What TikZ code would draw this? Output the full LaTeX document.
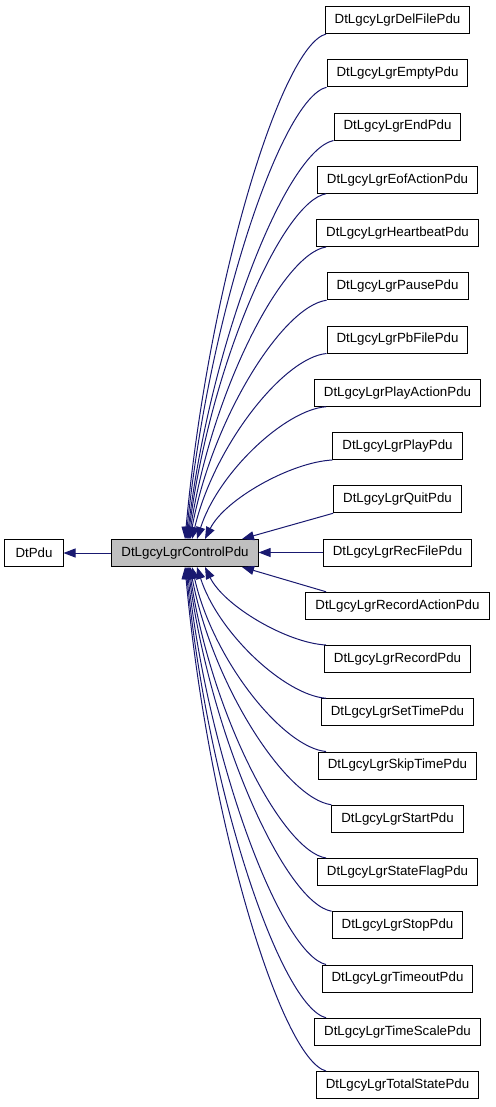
\documentclass[tikz,border=0pt]{standalone}
\usepackage{fontspec}
\setmainfont{Liberation Sans}
\usetikzlibrary{arrows.meta,calc}
\definecolor{edgeblue}{HTML}{191970}
\definecolor{basegray}{HTML}{BFBFBF}
\tikzset{
  cls/.style={draw=black, line width=1bp, fill=white, inner xsep=9.5bp, inner ysep=0bp,
    minimum height=27bp, font=\fontsize{13.3bp}{16bp}\selectfont, anchor=center},
  cur/.style={cls, fill=basegray},
  edge/.style={draw=edgeblue, line width=1bp, -{Triangle[length=12bp,width=9bp]}, edgeblue},
}
\newcommand\upedge[6]{%
  \draw[edge] let \p1=(#1.south west), \n1={max(\x1,326bp)} in
    ({\n1},{\y1}) .. controls +(-#3,#4) and +(#5,-#6) .. ([xshift=#2bp]ctrl.north);}
\newcommand\downedge[6]{%
  \draw[edge] let \p1=(#1.north west), \n1={max(\x1,326bp)} in
    ({\n1},{\y1}) .. controls +(-#3,-#4) and +(#5,#6) .. ([xshift=#2bp]ctrl.south);}
\begin{document}
\begin{tikzpicture}[x=1bp,y=-1bp]
\useasboundingbox (0,0) rectangle (496,1107);
\node[cls, minimum width=58bp] (dtpdu) at (34,553) {DtPdu};
\node[cur] (ctrl) at (185,553) {DtLgcyLgrControlPdu};
\foreach \n/\t [count=\i from 0] in {
  r0/DtLgcyLgrDelFilePdu, r1/DtLgcyLgrEmptyPdu, r2/DtLgcyLgrEndPdu,
  r3/DtLgcyLgrEofActionPdu, r4/DtLgcyLgrHeartbeatPdu, r5/DtLgcyLgrPausePdu,
  r6/DtLgcyLgrPbFilePdu, r7/DtLgcyLgrPlayActionPdu, r8/DtLgcyLgrPlayPdu,
  r9/DtLgcyLgrQuitPdu, r10/DtLgcyLgrRecFilePdu, r11/DtLgcyLgrRecordActionPdu,
  r12/DtLgcyLgrRecordPdu, r13/DtLgcyLgrSetTimePdu, r14/DtLgcyLgrSkipTimePdu,
  r15/DtLgcyLgrStartPdu, r16/DtLgcyLgrStateFlagPdu, r17/DtLgcyLgrStopPdu,
  r18/DtLgcyLgrTimeoutPdu, r19/DtLgcyLgrTimeScalePdu, r20/DtLgcyLgrTotalStatePdu}
  \node[cls] (\n) at (397.5,{20+53.25*\i}) {\t};
% base edge
\draw[edge] (ctrl.west) -- (dtpdu.east);
% upper derived classes
\upedge{r0}{0}{45}{12}{23}{253}
\upedge{r1}{1}{45}{11}{23}{226}
\upedge{r2}{2}{47}{10}{24}{200}
\upedge{r3}{3}{44}{8}{22}{173}
\upedge{r4}{4}{44}{7}{22}{146}
\upedge{r5}{5}{44}{6}{22}{120}
\upedge{r6}{7}{43}{4}{22}{93}
\upedge{r7}{12}{41}{3}{21}{66}
\upedge{r8}{20}{41}{2}{20}{40}
\draw[edge] (r9.south west) -- ([xshift=57bp]ctrl.north);
\draw[edge] (r10.west) -- (r10.west -| ctrl.east);
\draw[edge] let \p1=(r11.north west), \n1={max(\x1,326bp)} in
  ({\n1},{\y1}) -- ([xshift=57bp]ctrl.south);
% lower derived classes
\downedge{r12}{20}{39}{2}{19}{39}
\downedge{r13}{12}{41}{3}{21}{66}
\downedge{r14}{7}{43}{4}{21}{93}
\downedge{r15}{5}{45}{6}{23}{119}
\downedge{r16}{4}{44}{7}{22}{146}
\downedge{r17}{3}{46}{8}{23}{172}
\downedge{r18}{2}{44}{10}{22}{199}
\downedge{r19}{1}{45}{11}{22}{226}
\downedge{r20}{0}{45}{12}{23}{252}
\end{tikzpicture}
\end{document}
